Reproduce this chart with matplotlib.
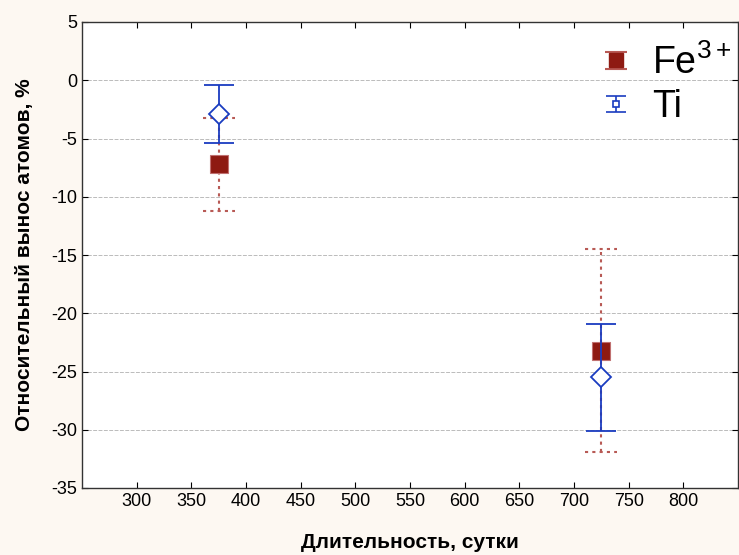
import numpy as np
import matplotlib.pyplot as plt
from matplotlib.legend_handler import HandlerErrorbar

# data
days = [375, 725]
fe_val = [-7.2, -23.2]
fe_err = [4.0, 8.7]
ti_val = [-2.9, -25.5]
ti_err = [2.5, 4.6]

xticks = np.arange(300, 801, 50)
yticks = np.arange(-35, 6, 5)

plt.rcParams['font.family'] = ['Liberation Sans', 'DejaVu Sans']
plt.rcParams['axes.unicode_minus'] = False
plt.rcParams['mathtext.fontset'] = 'custom'
plt.rcParams['mathtext.rm'] = 'Liberation Sans'

fig = plt.figure(figsize=(7.39, 5.55), dpi=100, facecolor='#fdf8f2')
ax = fig.add_axes([82/739, 1-488/555, (738-82)/739, (488-22)/555])

fe_col = '#8e1a12'
fe_line = '#b85a55'
ti_col = '#1a3cc0'
dots = (0, (1.5, 2))

# Fe3+
fe = ax.errorbar(days, fe_val, yerr=fe_err, fmt='s', ms=12.5, mfc=fe_col, mec='#c07070', mew=0.8,
                 ecolor=fe_line, elinewidth=1.5, capsize=0, zorder=3)
for ln in fe[2]:
    ln.set_linestyle(dots)
# dotted caps
for x, v, e in zip(days, fe_val, fe_err):
    for yy in (v - e, v + e):
        ax.plot([x - 14.5, x + 14.5], [yy, yy], color=fe_line, lw=1.5, ls=dots, zorder=2)

# Ti
ti = ax.errorbar(days, ti_val, yerr=ti_err, fmt='D', ms=10, mfc='white', mec=ti_col, mew=1.3,
                 ecolor=ti_col, elinewidth=1.3, capsize=11, capthick=1.5, zorder=4)

ax.set_xlim(250, 850)
ax.set_ylim(-35, 5)
ax.set_xticks(xticks)
ax.set_yticks(yticks)
ax.tick_params(direction='in', top=True, right=True, labelsize=13, length=4)
ax.yaxis.grid(True, color='#bbbbbb', ls=(0, (4, 1.5)), lw=0.7)
for s in ax.spines.values():
    s.set_linewidth(1.0)
    s.set_color('#333333')

ax.set_xlabel('Длительность, сутки', fontsize=15, fontweight='bold', labelpad=17)
ax.set_ylabel('Относительный вынос атомов, %', fontsize=15, fontweight='bold', labelpad=12)

# legend proxies
fe_h = ax.errorbar([np.nan], [np.nan], yerr=[1], fmt='s', ms=10, mfc=fe_col, mec=fe_col,
                   ecolor=fe_line, capsize=8, elinewidth=1.2, capthick=1.5)
ti_h = ax.errorbar([np.nan], [np.nan], yerr=[1], fmt='s', ms=5, mfc='white', mec=ti_col, mew=1.2,
                   ecolor=ti_col, capsize=7, elinewidth=1.2, capthick=1.5)
ax.legend([fe_h, ti_h], ['Fe$^{3+}$', 'Ti'], loc='upper right', frameon=False, fontsize=27,
          handlelength=0.6, handletextpad=0.65, labelspacing=0.2, borderaxespad=0,
          bbox_to_anchor=(1.013, 0.985),
          handler_map={type(fe_h): HandlerErrorbar(yerr_size=0.22)})

fig.savefig('out.png', dpi=100, facecolor=fig.get_facecolor())
